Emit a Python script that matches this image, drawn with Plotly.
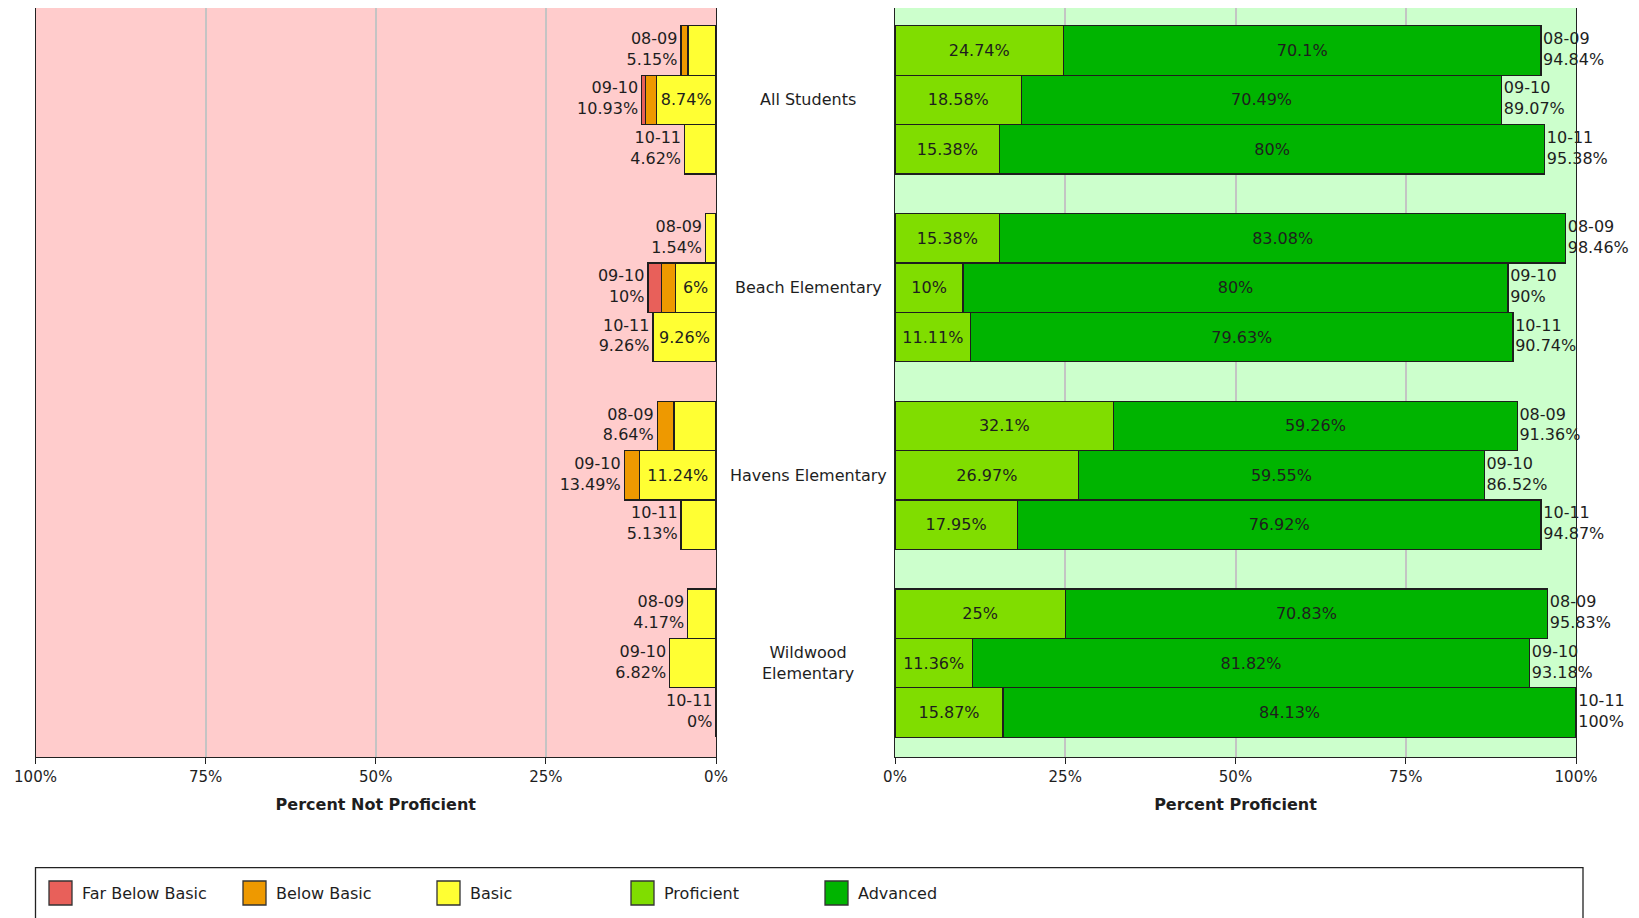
import plotly.graph_objects as go

# ---------------- data ----------------
groups = ["All Students", "Beach Elementary", "Havens Elementary", "Wildwood<br>Elementary"]
years = ["08-09", "09-10", "10-11"]

# rows: group-major, year-minor (12 rows)
far_below_basic = [0, 0.55, 0, 0, 2, 0, 0, 0, 0, 0, 0, 0]
below_basic = [1.03, 1.64, 0, 0, 2, 0, 2.47, 2.25, 0, 0, 0, 0]
basic = [4.12, 8.74, 4.62, 1.54, 6, 9.26, 6.17, 11.24, 5.13, 4.17, 6.82, 0]
proficient = [24.74, 18.58, 15.38, 15.38, 10, 11.11, 32.1, 26.97, 17.95, 25, 11.36, 15.87]
advanced = [70.1, 70.49, 80, 83.08, 80, 79.63, 59.26, 59.55, 76.92, 70.83, 81.82, 84.13]

series_names = ["Far Below Basic", "Below Basic", "Basic", "Proficient", "Advanced"]
series_colors = ["#E8605A", "#EE9900", "#FFFF33", "#80DD00", "#00B400"]
tick_vals = [0, 25, 50, 75, 100]
tick_text = ["0%", "25%", "50%", "75%", "100%"]

# ---------------- layout helpers ----------------
W, H = 1639, 918
OFF = 8  # page body margin offset (px)
FONT = "DejaVu Sans"
TXT = "#1E1E1E"
GROUP_STEP = 3.8

def px_x(p):
    return (p - OFF) / W

def px_y(p):
    return min(1.0, 1 - (p - OFF) / H)

def fmt(v):
    return f"{v:.2f}".rstrip("0").rstrip(".")

ypos = [g * GROUP_STEP + k for g in range(len(groups)) for k in range(len(years))]
year_of_row = [years[k] for g in range(len(groups)) for k in range(len(years))]

not_prof_total = [a + b + c for a, b, c in zip(far_below_basic, below_basic, basic)]
prof_total = [a + b for a, b in zip(proficient, advanced)]

fig = go.Figure()

def add_bar(vals, name, color, xa, ya):
    fig.add_trace(go.Bar(
        x=vals, y=ypos, orientation="h", name=name, width=1,
        marker=dict(color=color, line=dict(color="#1E1E1E", width=1.3)),
        text=[(fmt(v) + "%") if v > 0 else "" for v in vals],
        textposition="inside", insidetextanchor="middle",
        insidetextfont=dict(family=FONT, size=16, color=TXT),
        textangle=0, xaxis=xa, yaxis=ya, showlegend=False,
        hoverinfo="skip",
    ))

# left panel: Basic nearest 0, then Below Basic, then Far Below Basic
add_bar(basic, series_names[2], series_colors[2], "x", "y")
add_bar(below_basic, series_names[1], series_colors[1], "x", "y")
add_bar(far_below_basic, series_names[0], series_colors[0], "x", "y")
# right panel
add_bar(proficient, series_names[3], series_colors[3], "x2", "y2")
add_bar(advanced, series_names[4], series_colors[4], "x2", "y2")

# outside total labels
fig.add_trace(go.Scatter(
    x=not_prof_total, y=ypos, mode="markers+text",
    marker=dict(size=4, color="rgba(0,0,0,0)"),
    text=[f"{yr}<br>{fmt(t)}%" for yr, t in zip(year_of_row, not_prof_total)],
    textposition="middle left", textfont=dict(family=FONT, size=16, color=TXT),
    xaxis="x", yaxis="y", showlegend=False, cliponaxis=False, hoverinfo="skip",
))
fig.add_trace(go.Scatter(
    x=prof_total, y=ypos, mode="markers+text",
    marker=dict(size=2, color="rgba(0,0,0,0)"),
    text=[f"{yr}<br>{fmt(t)}%" for yr, t in zip(year_of_row, prof_total)],
    textposition="middle right", textfont=dict(family=FONT, size=16, color=TXT),
    xaxis="x2", yaxis="y2", showlegend=False, cliponaxis=False, hoverinfo="skip",
))

x_left = [px_x(35.5), px_x(716)]
x_right = [px_x(895), px_x(1576)]
y_dom = [px_y(757), px_y(7.3)]
n_rows_span = (len(groups) - 1) * GROUP_STEP + len(years) - 1
y_range = [n_rows_span + 0.5 + 0.4, -0.5 - 0.36]

axis_common = dict(
    showline=True, mirror=True, linecolor="#222222", linewidth=1.3,
    ticks="outside", ticklen=6, tickcolor="#222222", tickwidth=1.3,
    tickmode="array", tickvals=tick_vals, ticktext=tick_text,
    tickfont=dict(family=FONT, size=15, color=TXT),
    showgrid=True, gridcolor="#C4C4C4", gridwidth=2, zeroline=False,
    fixedrange=True, automargin=False,
)
yaxis_common = dict(
    range=y_range, domain=y_dom, showline=True, mirror=True, linecolor="#222222",
    linewidth=1.3, showticklabels=False, ticks="", showgrid=False, zeroline=False,
    automargin=False, fixedrange=True,
)

fig.update_layout(
    width=W, height=H, autosize=False,
    margin=dict(l=0, r=0, t=0, b=0, pad=0, autoexpand=False),
    paper_bgcolor="white",
    barmode="stack",
    uniformtext=dict(minsize=16, mode="hide"),
    xaxis=dict(axis_common, domain=x_left, range=[100, 0], anchor="y",
               title=dict(text="<b>Percent Not Proficient</b>",
                          font=dict(family=FONT, size=16, color=TXT), standoff=13)),
    xaxis2=dict(axis_common, domain=x_right, range=[0, 100], anchor="y2",
                title=dict(text="<b>Percent Proficient</b>",
                           font=dict(family=FONT, size=16, color=TXT), standoff=13)),
    yaxis=dict(yaxis_common, anchor="x"),
    yaxis2=dict(yaxis_common, anchor="x2"),
    plot_bgcolor="white",
    showlegend=False,
)

shapes = [
    # panel backgrounds
    dict(type="rect", xref="x domain", yref="y domain", x0=0, x1=1, y0=0, y1=1,
         fillcolor="#FFCCCC", line=dict(width=0), layer="below"),
    dict(type="rect", xref="x2 domain", yref="y2 domain", x0=0, x1=1, y0=0, y1=1,
         fillcolor="#CCFFCC", line=dict(width=0), layer="below"),
    # legend box
    dict(type="rect", xref="paper", yref="paper", x0=px_x(35.5), x1=px_x(1583),
         y0=px_y(867.6), y1=-0.05, fillcolor="white",
         line=dict(color="#222222", width=1.3)),
]
annotations = []
for g, name in enumerate(groups):
    annotations.append(dict(
        x=px_x(808), xref="paper", y=g * GROUP_STEP + 1, yref="y",
        text=name, showarrow=False, xanchor="center", yanchor="middle",
        font=dict(family=FONT, size=16, color=TXT),
    ))
for i, (name, color) in enumerate(zip(series_names, series_colors)):
    x0 = 49 + i * 194
    shapes.append(dict(type="rect", xref="paper", yref="paper",
                       x0=px_x(x0), x1=px_x(x0 + 23), y0=px_y(905), y1=px_y(881),
                       fillcolor=color, line=dict(color="#333333", width=1.3)))
    annotations.append(dict(
        x=px_x(x0 + 31), xref="paper", y=px_y(893), yref="paper",
        text=name, showarrow=False, xanchor="left", yanchor="middle",
        font=dict(family=FONT, size=16, color=TXT),
    ))

fig.update_layout(shapes=shapes, annotations=annotations)

fig.write_html("out.html")
